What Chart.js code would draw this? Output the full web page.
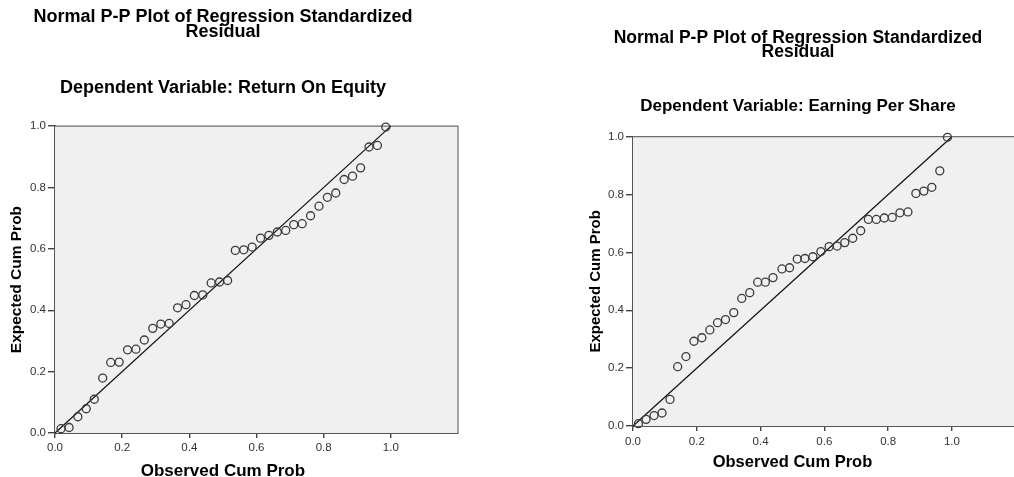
<!DOCTYPE html>
<html>
<head>
<meta charset="utf-8">
<script src="https://cdn.jsdelivr.net/npm/chart.js@4/dist/chart.umd.min.js"></script>
<style>
  html, body { margin: 0; padding: 0; background: #fff; overflow: hidden; width: 1014px; height: 477px; position: relative; }
  .box { position: absolute; top: 0; }
</style>
</head>
<body>
<div class="box" style="left:-12px"><canvas id="roeChart" width="482" height="477"></canvas></div>
<div class="box" style="left:575px"><canvas id="epsChart" width="446" height="477"></canvas></div>
<script>
// Return On Equity : observed / expected cum prob
var roeObserved = [0.018, 0.042, 0.068, 0.093, 0.117, 0.142, 0.166, 0.191, 0.216, 0.241,
                   0.266, 0.291, 0.315, 0.340, 0.365, 0.390, 0.415, 0.440, 0.465, 0.490,
                   0.514, 0.537, 0.562, 0.587, 0.612, 0.637, 0.662, 0.687, 0.711, 0.736,
                   0.761, 0.786, 0.811, 0.836, 0.861, 0.886, 0.910, 0.935, 0.960, 0.985];
var roeExpected = [0.014, 0.018, 0.053, 0.079, 0.110, 0.179, 0.230, 0.231, 0.271, 0.273,
                   0.303, 0.341, 0.355, 0.357, 0.408, 0.418, 0.448, 0.450, 0.489, 0.492,
                   0.497, 0.595, 0.597, 0.606, 0.635, 0.644, 0.655, 0.660, 0.679, 0.682,
                   0.708, 0.739, 0.768, 0.782, 0.826, 0.837, 0.864, 0.932, 0.937, 0.997];

// Earning Per Share : observed / expected cum prob
var epsObserved = [0.017, 0.041, 0.066, 0.091, 0.116, 0.140, 0.166, 0.191, 0.216, 0.241,
                   0.265, 0.290, 0.316, 0.341, 0.366, 0.391, 0.415, 0.439, 0.467, 0.491,
                   0.515, 0.539, 0.564, 0.589, 0.615, 0.640, 0.664, 0.689, 0.714, 0.738,
                   0.763, 0.788, 0.813, 0.837, 0.862, 0.887, 0.912, 0.937, 0.962, 0.986];
var epsExpected = [0.008, 0.023, 0.036, 0.045, 0.092, 0.205, 0.240, 0.293, 0.305, 0.332,
                   0.357, 0.368, 0.392, 0.441, 0.461, 0.497, 0.497, 0.513, 0.543, 0.547,
                   0.577, 0.579, 0.585, 0.603, 0.620, 0.622, 0.634, 0.649, 0.675, 0.714,
                   0.714, 0.719, 0.721, 0.737, 0.740, 0.804, 0.812, 0.825, 0.882, 0.998];

// reference line y = x
var diagX = [0, 1];
var diagY = [0, 1];

var tickLabels = ['0.0', '0.2', '0.4', '0.6', '0.8', '1.0'];

var FONT = "'Liberation Sans', Arial, sans-serif";

// grey plot background + frame
var plotFrame = {
  id: 'plotFrame',
  beforeDatasetsDraw: function(chart) {
    var a = chart.chartArea, ctx = chart.ctx;
    ctx.save();
    ctx.fillStyle = '#f0f0f0';
    ctx.fillRect(a.left, a.top, a.right - a.left, a.bottom - a.top);
    ctx.strokeStyle = '#6e6e6e';
    ctx.lineWidth = 1.2;
    ctx.beginPath();
    ctx.moveTo(a.left, a.top);
    ctx.lineTo(a.right, a.top);
    ctx.lineTo(a.right, a.bottom);
    ctx.stroke();
    ctx.restore();
  }
};

// x axis title centred under the 0..1 range
var xTitle = {
  id: 'xTitle',
  afterDraw: function(chart, args, opts) {
    var ctx = chart.ctx, x = chart.scales.x;
    ctx.save();
    ctx.font = 'bold ' + opts.size + 'px ' + FONT;
    ctx.fillStyle = '#000';
    ctx.textAlign = 'center';
    ctx.textBaseline = 'middle';
    ctx.fillText(opts.text, x.getPixelForValue(0.5), x.bottom - opts.offset);
    ctx.restore();
  }
};

function pairs(xs, ys) {
  return xs.map(function(v, i) { return { x: v, y: ys[i] }; });
}

function makeChart(id, obs, exp, o) {
  var ctx = document.getElementById(id).getContext('2d');
  return new Chart(ctx, {
    type: 'scatter',
    data: {
      datasets: [{
        label: 'points',
        data: pairs(obs, exp),
        pointStyle: 'circle',
        pointRadius: 4,
        pointHoverRadius: 4,
        backgroundColor: 'rgba(0,0,0,0)',
        borderColor: '#3a3a3a',
        borderWidth: 1.3,
        clip: false
      },
      {
        label: 'diagonal',
        type: 'line',
        data: pairs(diagX, diagY),
        showLine: true,
        pointRadius: 0,
        borderColor: '#111',
        borderWidth: 1.2,
        clip: false
      }]
    },
    plugins: [plotFrame, xTitle],
    options: {
      responsive: false,
      animation: false,
      devicePixelRatio: 1,
      layout: { padding: { left: 0, right: o.padRight, top: 0, bottom: 0 } },
      plugins: {
        legend: { display: false },
        tooltip: { enabled: false },
        title: {
          display: true,
          text: ['Normal P-P Plot of Regression Standardized', 'Residual'],
          color: '#000',
          font: { family: FONT, size: o.titleSize, weight: 'bold', lineHeight: o.titleLH },
          padding: { top: o.titleTop, bottom: 0 }
        },
        subtitle: {
          display: true,
          text: o.dep,
          color: '#000',
          font: { family: FONT, size: o.depSize, weight: 'bold', lineHeight: o.depLH },
          padding: { top: o.depTop, bottom: o.depBottom }
        },
        xTitle: { text: 'Observed Cum Prob', size: o.xTitleSize, offset: o.xTitleOffset }
      },
      scales: {
        x: {
          type: 'linear',
          min: 0,
          max: 1.2,
          afterFit: function(s) { s.height = o.xHeight; s.paddingLeft = 0; s.paddingRight = 0; },
          ticks: {
            stepSize: 0.2,
            padding: o.xTickPad,
            color: '#333',
            font: { family: FONT, size: o.tickSize },
            callback: function(v) {
              var i = Math.round(v / 0.2);
              return i < tickLabels.length ? tickLabels[i] : null;
            }
          },
          grid: { drawOnChartArea: false, drawTicks: true, tickLength: 5, color: '#444', lineWidth: 1.4 },
          border: { color: '#555', width: 2 }
        },
        y: {
          type: 'linear',
          min: 0,
          max: 1,
          afterFit: function(s) { s.width = o.yWidth; },
          ticks: {
            stepSize: 0.2,
            padding: 2,
            color: '#333',
            font: { family: FONT, size: o.tickSize },
            callback: function(v) { return tickLabels[Math.round(v / 0.2)]; }
          },
          grid: { drawOnChartArea: false, drawTicks: true, tickLength: 7, color: '#444', lineWidth: 1.4 },
          border: { color: '#555', width: 2 },
          title: {
            display: true,
            text: 'Expected Cum Prob',
            color: '#000',
            font: { family: FONT, size: o.yTitleSize, weight: 'bold', lineHeight: 1.2 },
            padding: { top: o.yTitlePad, bottom: 0 }
          }
        }
      }
    }
  });
}

makeChart('roeChart', roeObserved, roeExpected, {
  dep: 'Dependent Variable: Return On Equity',
  padRight: 12,
  titleSize: 18, titleLH: 0.817, titleTop: 10,
  depSize: 18, depLH: 0.817, depTop: 41, depBottom: 31,
  xHeight: 44, xTickPad: 3, tickSize: 11.5,
  yWidth: 67, yTitleSize: 15.5, yTitlePad: 19,
  xTitleSize: 17, xTitleOffset: 6
});

makeChart('epsChart', epsObserved, epsExpected, {
  dep: 'Dependent Variable: Earning Per Share',
  padRight: 0,
  titleSize: 17.5, titleLH: 0.8, titleTop: 30.7,
  depSize: 17, depLH: 0.824, depTop: 40.3, depBottom: 23.7,
  xHeight: 51, xTickPad: 3.5, tickSize: 11.5,
  yWidth: 58, yTitleSize: 15, yTitlePad: 12,
  xTitleSize: 16.5, xTitleOffset: 15
});
</script>
</body>
</html>
